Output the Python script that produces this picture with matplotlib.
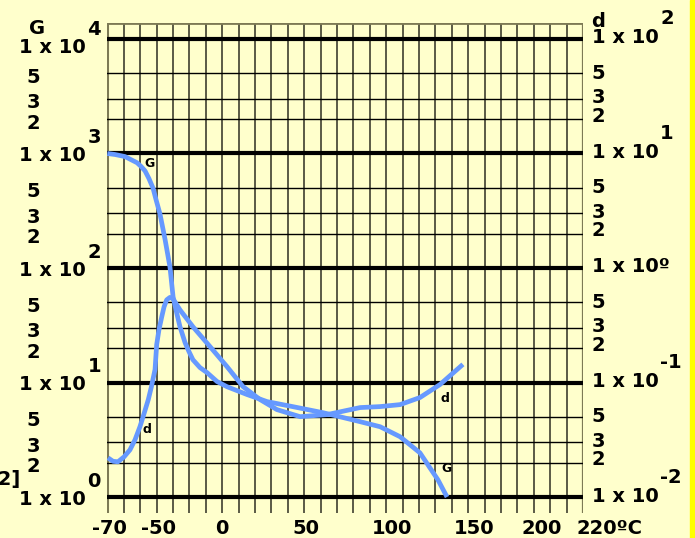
import numpy as np
import matplotlib
matplotlib.use('Agg')
import matplotlib.pyplot as plt
from matplotlib.patches import Rectangle

# G curve (left axis), temperature in degC
temp_g = [-70, -65.3, -59.2, -56.2, -51.9, -49.5, -47.0, -44.6, -42.1, -40.3,
          -37.9, -34.8, -31.8, -29.9, -27.7, -25.7, -22.6, -20.2, -17.8, -13.5,
          -9.2, -3.1, 2.9, 15.2, 27.4, 43.2, 61.5, 84.1, 96.3, 108.5, 120.6,
          131.6, 137.1]
g_vals = [1000, 980, 940, 893, 831, 773, 705, 604, 497, 396,
          297, 178, 102, 56, 40.6, 30.7, 22.3, 18.6, 15.8, 13.5,
          12.2, 10.2, 9.2, 7.85, 6.81, 6.15, 5.45, 4.55, 4.11, 3.36, 2.43,
          1.41, 1.0]

# d curve (right axis)
temp_d = [-69.6, -66.5, -63.5, -59.8, -56.2, -53.1, -50.1, -47.6, -45.0, -43.1,
          -40.9, -39.9, -38.5, -36.8, -35.4, -33.8, -31.8, -29.9, -25.7, -17.8,
          -7.4, 2.9, 12.7, 23.1, 33.4, 47.5, 63.9, 84.1, 96.3, 108.5, 120.6,
          132.8, 146.8]
d_vals = [0.0220, 0.0205, 0.0203, 0.0224, 0.0258, 0.0316, 0.0411, 0.0535, 0.071, 0.092,
          0.130, 0.214, 0.289, 0.375, 0.458, 0.527, 0.554, 0.537, 0.431, 0.307,
          0.206, 0.138, 0.0922, 0.071, 0.058, 0.0503, 0.0524, 0.0604, 0.0616, 0.0641, 0.0739,
          0.096, 0.144]

x_ticks = [-70, -50, 0, 50, 100, 150, 200]
xlab_nudge = [2, 18, 0, 2, 6, 6, -9]   # pixel nudges, as drawn in the original
left_exp = [0, 1, 2, 3, 4]
right_exp = [-2, -1, 0, 1, 2]
minor = [5, 3, 2]

bg = '#FFFFCC'
blue = '#6699FF'
olive = '#7d7a55'
fs = 14

fig = plt.figure(figsize=(6.95, 5.38), dpi=100, facecolor=bg)
ax = fig.add_axes([107.3/695, 25/538, 475.7/695, 490/538])
ax.set_facecolor(bg)
ax.set_yscale('log')
ax.set_xlim(-70, 220)
ylo, yhi = 10**-0.1397, 10**4.1397
ax.set_ylim(ylo, yhi)
for s in ax.spines.values():
    s.set_visible(False)
ax.set_xticks([])
ax.set_yticks([])
ax.minorticks_off()

# grid
for t in range(-60, 220, 10):
    ax.axvline(t, color='#2e2e22', lw=1.1, zorder=1)
ax.axvline(-70, color=olive, lw=2.2, zorder=1)
ax.axvline(220, color=olive, lw=1.6, zorder=1)
ax.axhline(yhi, color=olive, lw=2.0, zorder=1)
for k in range(4):
    for m in minor:
        ax.axhline(m*10**k, color='black', lw=1.0, zorder=1)
for k in left_exp:
    ax.axhline(10**k, color='black', lw=3.0, zorder=2)

# curves
kw = dict(color=blue, lw=3.4, solid_joinstyle='round', solid_capstyle='butt', zorder=3)
ax.plot(temp_g, g_vals, **kw)
ax2 = ax.twinx()
ax2.set_yscale('log')
ax2.set_ylim(ylo/100, yhi/100)
ax2.set_xlim(-70, 220)
for s in ax2.spines.values():
    s.set_visible(False)
ax2.set_yticks([])
ax2.minorticks_off()
ax2.plot(temp_d, d_vals, **kw)

tb = dict(fontsize=fs, fontweight='bold', family='DejaVu Sans', color='black')
sm = dict(fontsize=9, fontweight='bold', family='DejaVu Sans', color='black')

# curve labels
ax.text(-44.5, 810, 'G', ha='center', va='center', **sm)
ax.text(-46, 3.85, 'd', ha='center', va='center', **sm)
ax.text(136, 7.3, 'd', ha='center', va='center', **sm)
ax.text(136.5, 1.76, 'G', ha='center', va='center', **sm)

def lab(a, txt, xf, yv, dx, dy, ha='center'):
    a.annotate(txt, xy=(xf, yv), xycoords=('axes fraction', 'data'),
               xytext=(dx, dy), textcoords='offset pixels',
               ha=ha, va='center', annotation_clip=False, **tb)

# left axis labels
for k in left_exp:
    dy = -7 if k == 4 else 0
    lab(ax, '1 x 10', 0, 10**k, -22, -2 + dy, ha='right')
    lab(ax, str(k), 0, 10**k, -13, 16 + dy)
for k in range(4):
    for m in minor:
        lab(ax, str(m), 0, m*10**k, -74, -4)
lab(ax, 'G', 0, 10**4, -70, 10)

# right axis labels
for k in right_exp:
    if k == 0:
        lab(ax2, '1 x 10º', 1, 10**k, 9, 1, ha='left')
    else:
        lab(ax2, '1 x 10', 1, 10**k, 9, 1, ha='left')
        lab(ax2, str(k), 1, 10**k, 77, 20, ha='left')
right_dy = {5: 0, 3: 1, 2: 3}
for k in range(-2, 2):
    for m in minor:
        lab(ax2, str(m), 1, m*10**k, 15, right_dy[m])
lab(ax2, 'd', 1, 10**2, 15, 17)

# bottom labels
for t, nd in zip(x_ticks, xlab_nudge):
    ax.annotate(str(t), xy=(t, 0), xycoords=('data', 'axes fraction'),
                xytext=(nd, -16), textcoords='offset pixels',
                ha='center', va='center', annotation_clip=False, **tb)
ax.annotate('220ºC', xy=(220, 0), xycoords=('data', 'axes fraction'),
            xytext=(-6, -16), textcoords='offset pixels',
            ha='left', va='center', annotation_clip=False, **tb)

# cut-off unit label at the left edge
fig.text(21/695, 1 - 480/538, '[N/mm2]', ha='right', va='center', **tb)

# yellow stripe on the right edge
fig.patches.append(Rectangle((690/695, 0), 5/695, 1, transform=fig.transFigure,
                             color='#FFFF00', zorder=0))

fig.savefig('out.png', dpi=100, facecolor=bg)
